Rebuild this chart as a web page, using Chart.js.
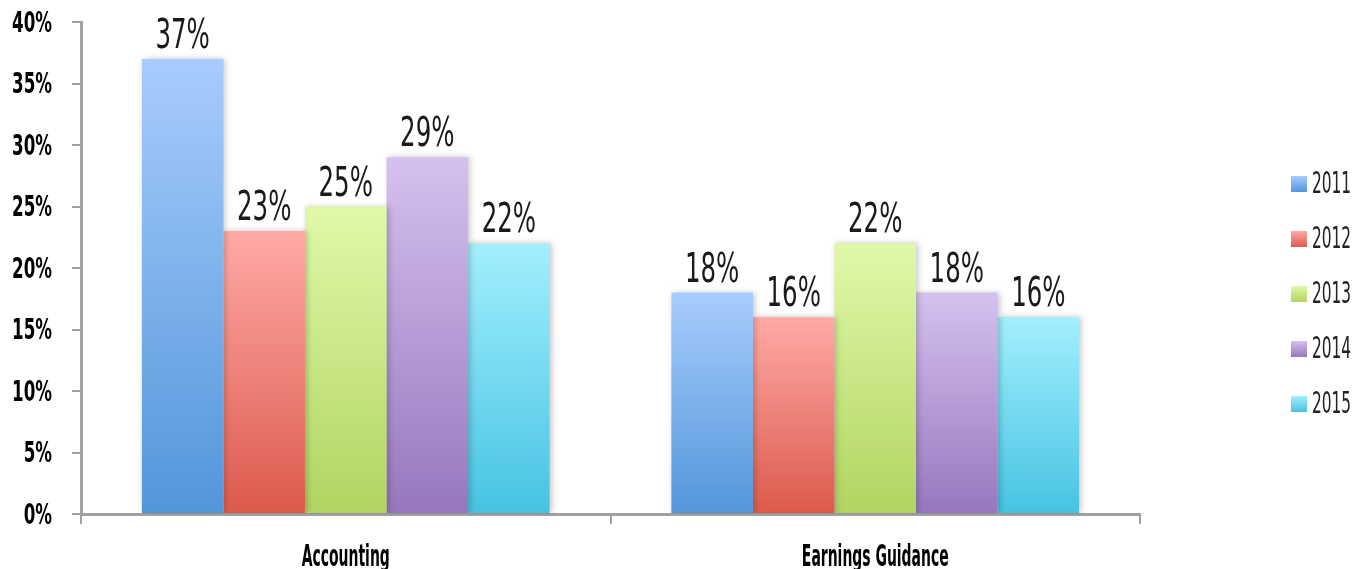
<!DOCTYPE html>
<html>
<head>
<meta charset="utf-8">
<script src="https://cdn.jsdelivr.net/npm/chart.js@4.4.1/dist/chart.umd.min.js"></script>
<style>
  html, body { margin: 0; padding: 0; background: #fff; }
</style>
</head>
<body>
<canvas id="chart" width="1369" height="569"></canvas>
<script>
// data
const categories = ['Accounting', 'Earnings Guidance'];
const years = ['2011', '2012', '2013', '2014', '2015'];
const values2011 = [37, 18];
const values2012 = [23, 16];
const values2013 = [25, 22];
const values2014 = [29, 18];
const values2015 = [22, 16];
const yMin = 0, yMax = 40, yStep = 5;

const series = [values2011, values2012, values2013, values2014, values2015];
const topColors = ['#a8ccfd', '#ffaaa6', '#e0f9a9', '#d5c1ef', '#a3effd'];
const bottomColors = ['#5296da', '#dc5a4c', '#b1d462', '#9677bd', '#46c3e2'];

// the original face is a very narrow one, so text is drawn squeezed
const FONT = "'DejaVu Sans Condensed', 'DejaVu Sans', sans-serif";
const AXIS_GREY = '#a0a0a0';
const CLEAR = 'rgba(0,0,0,0)';

// legend placement
const LEGEND_W = 229;
const LEGEND_X = 1291;
const LEGEND_Y0 = 184;
const LEGEND_FONT = 24;
const LEGEND_PAD = 31;
const LEGEND_BOX = 16;

function barFill(i) {
    return function(ctx) {
        const chart = ctx.chart;
        if (!chart.chartArea || ctx.raw === undefined) return bottomColors[i];
        const y = chart.scales.y;
        const g = chart.ctx.createLinearGradient(0, y.getPixelForValue(ctx.raw), 0, y.getPixelForValue(0));
        g.addColorStop(0, topColors[i]);
        g.addColorStop(1, bottomColors[i]);
        return g;
    };
}

const datasets = years.map((yr, i) => ({
    label: yr,
    data: series[i],
    backgroundColor: barFill(i),
    borderWidth: 0
}));

function squeezed(c, text, x, y, sx, align) {
    c.save();
    c.translate(x, y);
    c.scale(sx, 1);
    c.textAlign = align;
    c.fillText(text, 0, 0);
    c.restore();
}

// soft shadow behind bars
const barShadow = {
    id: 'barShadow',
    beforeDatasetDraw(chart) {
        const c = chart.ctx;
        c.save();
        c.shadowColor = 'rgba(0,0,0,0.22)';
        c.shadowBlur = 6;
        c.shadowOffsetX = 2;
        c.shadowOffsetY = 0;
    },
    afterDatasetDraw(chart) {
        chart.ctx.restore();
    }
};

// value labels over bars
const valueLabels = {
    id: 'valueLabels',
    afterDatasetsDraw(chart) {
        const c = chart.ctx;
        c.save();
        c.font = '40px ' + FONT;
        c.fillStyle = '#1a1a1a';
        c.textBaseline = 'alphabetic';
        chart.data.datasets.forEach((ds, i) => {
            chart.getDatasetMeta(i).data.forEach((bar, j) => {
                squeezed(c, ds.data[j] + '%', bar.x, bar.y - 11, 0.68, 'center');
            });
        });
        c.restore();
    }
};

// axis and legend texts, at the positions the scales and legend give
const axisText = {
    id: 'axisText',
    afterDraw(chart) {
        const c = chart.ctx;
        const xs = chart.scales.x, ys = chart.scales.y;
        c.save();
        c.fillStyle = '#000';
        c.textBaseline = 'middle';
        c.font = 'bold 29px ' + FONT;
        ys.ticks.forEach((t, i) => {
            squeezed(c, t.label, xs.left - 29, ys.getPixelForTick(i) + 2, 0.64, 'right');
        });
        c.textBaseline = 'alphabetic';
        c.font = 'bold 31px ' + FONT;
        xs.ticks.forEach((t, i) => {
            squeezed(c, categories[t.value], xs.getPixelForTick(i), ys.bottom + 52, 0.5, 'center');
        });
        c.fillStyle = '#222';
        c.textBaseline = 'middle';
        c.font = '30px ' + FONT;
        chart.legend.legendItems.forEach((it, i) => {
            const cy = LEGEND_Y0 + i * (LEGEND_FONT + LEGEND_PAD);
            squeezed(c, it.text, LEGEND_X + LEGEND_BOX + 5, cy + 1, 0.57, 'left');
        });
        c.restore();
    }
};

// widen the legend box and put its items where the picture has them
const legendPlace = {
    id: 'legendPlace',
    beforeInit(chart) {
        const lg = chart.legend;
        const fit = lg.fit;
        lg.fit = function() {
            fit.call(this);
            this.width = LEGEND_W;
        };
        const draw = lg.draw;
        lg.draw = function(area) {
            const l = this.left, t = this.top, b = this.bottom;
            this.left = LEGEND_X - LEGEND_PAD;
            this.top = LEGEND_Y0 - LEGEND_FONT / 2 - LEGEND_PAD;
            this.bottom = chart.height;
            draw.call(this, area);
            this.left = l; this.top = t; this.bottom = b;
        };
    }
};

new Chart(document.getElementById('chart'), {
    type: 'bar',
    data: { labels: categories, datasets: datasets },
    options: {
        responsive: false,
        animation: false,
        layout: { padding: { top: 22, left: 0, right: 0, bottom: 0 } },
        datasets: {
            bar: { categoryPercentage: 0.77, barPercentage: 1 }
        },
        scales: {
            x: {
                grid: {
                    offset: true,
                    drawOnChartArea: false,
                    drawTicks: true,
                    tickLength: 10,
                    color: AXIS_GREY,
                    lineWidth: 2
                },
                border: { color: AXIS_GREY, width: 3 },
                ticks: {
                    color: CLEAR,
                    padding: 0,
                    font: { family: FONT, size: 12, weight: 'bold' }
                },
                afterFit: (s) => { s.height = 55; }
            },
            y: {
                min: yMin,
                max: yMax,
                grid: {
                    drawOnChartArea: false,
                    drawTicks: true,
                    tickLength: 9,
                    color: AXIS_GREY,
                    lineWidth: 2
                },
                border: { color: AXIS_GREY, width: 3 },
                ticks: {
                    stepSize: yStep,
                    color: CLEAR,
                    padding: 0,
                    font: { family: FONT, size: 12, weight: 'bold' },
                    callback: (v) => v + '%'
                },
                afterFit: (s) => { s.width = 81; }
            }
        },
        plugins: {
            tooltip: { enabled: false },
            legend: {
                position: 'right',
                align: 'start',
                labels: {
                    boxWidth: LEGEND_BOX,
                    boxHeight: LEGEND_BOX,
                    padding: LEGEND_PAD,
                    color: CLEAR,
                    font: { family: FONT, size: LEGEND_FONT },
                    generateLabels(chart) {
                        return chart.data.datasets.map((ds, i) => {
                            const cy = LEGEND_Y0 + i * (LEGEND_FONT + LEGEND_PAD);
                            const g = chart.ctx.createLinearGradient(0, cy - LEGEND_BOX / 2, 0, cy + LEGEND_BOX / 2);
                            g.addColorStop(0, topColors[i]);
                            g.addColorStop(1, bottomColors[i]);
                            return {
                                text: ds.label,
                                fillStyle: g,
                                fontColor: CLEAR,
                                strokeStyle: CLEAR,
                                lineWidth: 0,
                                hidden: false,
                                datasetIndex: i
                            };
                        });
                    }
                }
            }
        }
    },
    plugins: [legendPlace, barShadow, valueLabels, axisText]
});
</script>
</body>
</html>
